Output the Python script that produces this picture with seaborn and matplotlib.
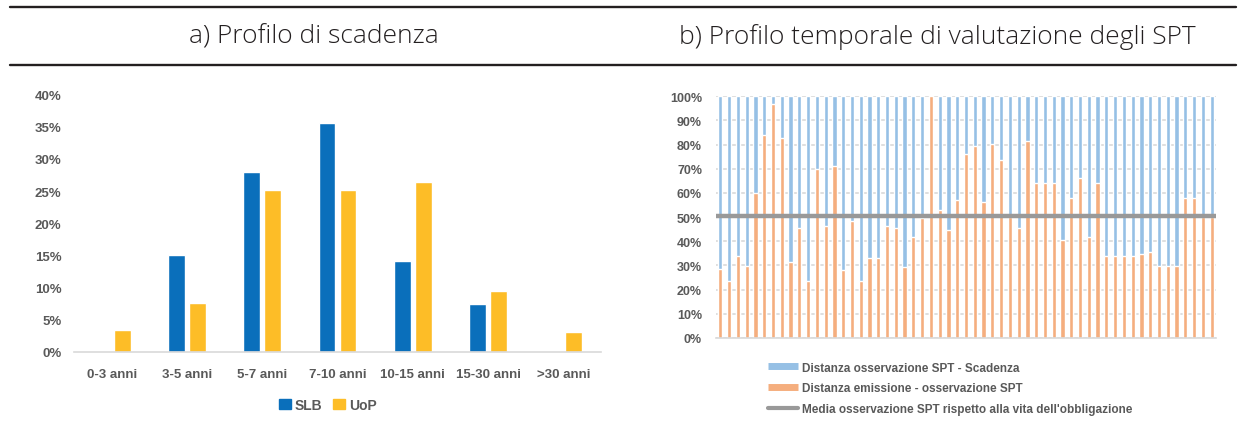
import numpy as np
import pandas as pd
import seaborn as sns
import matplotlib.pyplot as plt
from matplotlib.lines import Line2D
from matplotlib.patches import Patch
from matplotlib.ticker import PercentFormatter

# a) maturity profile (% of issues)
fasce = ["0-3 anni", "3-5 anni", "5-7 anni", "7-10 anni", "10-15 anni", "15-30 anni", ">30 anni"]
slb = [0.0, 15.1, 28.0, 35.6, 14.1, 7.5, 0.0]
uop = [3.4, 7.6, 25.1, 25.2, 26.4, 9.4, 3.0]

# b) SPT observation timing, share of bond life from issuance to observation (%)
emissione_oss = [28.5, 23.4, 34.0, 29.7, 60.0, 84.0, 96.8, 82.6, 31.3, 45.4,
                 23.4, 70.0, 46.2, 71.0, 28.1, 48.3, 23.4, 33.1, 33.1, 46.2,
                 45.4, 29.5, 41.9, 49.5, 100.0, 53.0, 44.7, 57.1, 76.0, 79.4,
                 56.4, 80.3, 73.7, 50.0, 45.4, 81.7, 64.1, 64.1, 64.1, 40.6,
                 57.9, 66.1, 41.7, 64.0, 33.8, 33.8, 33.8, 33.8, 34.8, 35.4,
                 29.9, 29.7, 29.7, 57.8, 57.8, 50.0, 50.0]
oss_scadenza = [100.0 - v for v in emissione_oss]
media_spt = 50.5

BLUE = "#0a6fbb"
YELLOW = "#fdbd27"
LBLUE = "#96c0e5"
ORANGE = "#f5ae7e"
GREY_TXT = "#595959"

sns.set_style("white")
plt.rcParams["font.family"] = ["Liberation Sans", "DejaVu Sans"]

fig = plt.figure(figsize=(12.46, 4.27), dpi=100)

# header rules and titles
for yy in (1 - 7.5 / 427, 1 - 65.7 / 427):
    fig.add_artist(Line2D([10 / 1246, 1236 / 1246], [yy, yy], transform=fig.transFigure,
                          color="#231f20", lw=1.7))
title_font = dict(fontsize=19, color="#231f20", family=["Open Sans", "DejaVu Sans"],
                  fontweight="light", ha="center", va="center")
fig.text(314 / 1246, 1 - 37 / 427, "a) Profilo di scadenza", **title_font)
fig.text(937 / 1246, 1 - 37 / 427, "b) Profilo temporale di valutazione degli SPT", **title_font)

# ---- left chart
ax1 = fig.add_axes([74 / 1246, 1 - 352.7 / 427, (601 - 74) / 1246, (352.7 - 95.7) / 427])
df = pd.DataFrame({
    "fascia": fasce * 2,
    "valore": slb + uop,
    "tipo": ["SLB"] * len(fasce) + ["UoP"] * len(fasce),
})
sns.barplot(data=df, x="fascia", y="valore", hue="tipo", palette=[BLUE, YELLOW],
            width=0.56, gap=0.2, ax=ax1, legend=False, errorbar=None, saturation=1)
ax1.set_ylim(0, 40)
ax1.set_yticks(np.arange(0, 41, 5))
ax1.yaxis.set_major_formatter(PercentFormatter(decimals=0))
ax1.set_xlim(-0.5, len(fasce) - 0.5)
ax1.set_xlabel("")
ax1.set_ylabel("")
for s in ("top", "right", "left"):
    ax1.spines[s].set_visible(False)
ax1.spines["bottom"].set_color("#d9d9d9")
ax1.spines["bottom"].set_linewidth(1.2)
ax1.tick_params(length=0, labelsize=9.5, labelcolor=GREY_TXT)
ax1.tick_params(axis="x", pad=12)
ax1.tick_params(axis="y", pad=9)
for lab in ax1.get_xticklabels() + ax1.get_yticklabels():
    lab.set_fontweight("bold")
fig.legend(handles=[Patch(color=BLUE, label="SLB"), Patch(color=YELLOW, label="UoP")],
           loc="center", bbox_to_anchor=(328 / 1246, 1 - 406 / 427), ncol=2, frameon=False,
           handlelength=0.8, handleheight=0.8, handletextpad=0.3, columnspacing=0.8,
           prop={"size": 10, "weight": "bold"}, labelcolor=GREY_TXT)

# ---- right chart
ax2 = fig.add_axes([716 / 1246, 1 - 339 / 427, 500 / 1246, (339 - 97.3) / 427])
idx = np.arange(1, len(emissione_oss) + 1)
totale = [a + b for a, b in zip(emissione_oss, oss_scadenza)]
sns.barplot(x=idx, y=totale, color=LBLUE, width=0.48, ax=ax2, saturation=1, errorbar=None)
sns.barplot(x=idx, y=emissione_oss, color=ORANGE, width=0.48, ax=ax2, saturation=1, errorbar=None)
ax2.axhline(media_spt, color="#999999", lw=3.2, zorder=5)
ax2.set_ylim(0, 100)
ax2.set_xlim(-0.5, len(emissione_oss) - 0.5)
ax2.set_yticks(np.arange(0, 101, 10))
ax2.yaxis.set_major_formatter(PercentFormatter(decimals=0))
ax2.grid(axis="y", color="#d9d9d9", lw=1.2)
ax2.set_axisbelow(True)
ax2.set_xticks([])
ax2.set_xlabel("")
for s in ("top", "right", "left"):
    ax2.spines[s].set_visible(False)
ax2.spines["bottom"].set_color("#d9d9d9")
ax2.spines["bottom"].set_linewidth(1.2)
ax2.tick_params(length=0, labelsize=9, labelcolor=GREY_TXT, pad=10)
for lab in ax2.get_yticklabels():
    lab.set_fontweight("bold")
leg_handles = [
    Line2D([], [], color=LBLUE, lw=5, solid_capstyle="butt", label="Distanza osservazione SPT - Scadenza"),
    Line2D([], [], color=ORANGE, lw=5, solid_capstyle="butt", label="Distanza emissione - osservazione SPT"),
    Line2D([], [], color="#999999", lw=3, label="Media osservazione SPT rispetto alla vita dell'obbligazione"),
]
fig.legend(handles=leg_handles, loc="upper left", bbox_to_anchor=(757 / 1246, 1 - 352 / 427),
           frameon=False, handlelength=2.6, handletextpad=0.35, labelspacing=0.75,
           prop={"size": 8.5, "weight": "bold"}, labelcolor=GREY_TXT)

fig.savefig("out.png", dpi=100)
